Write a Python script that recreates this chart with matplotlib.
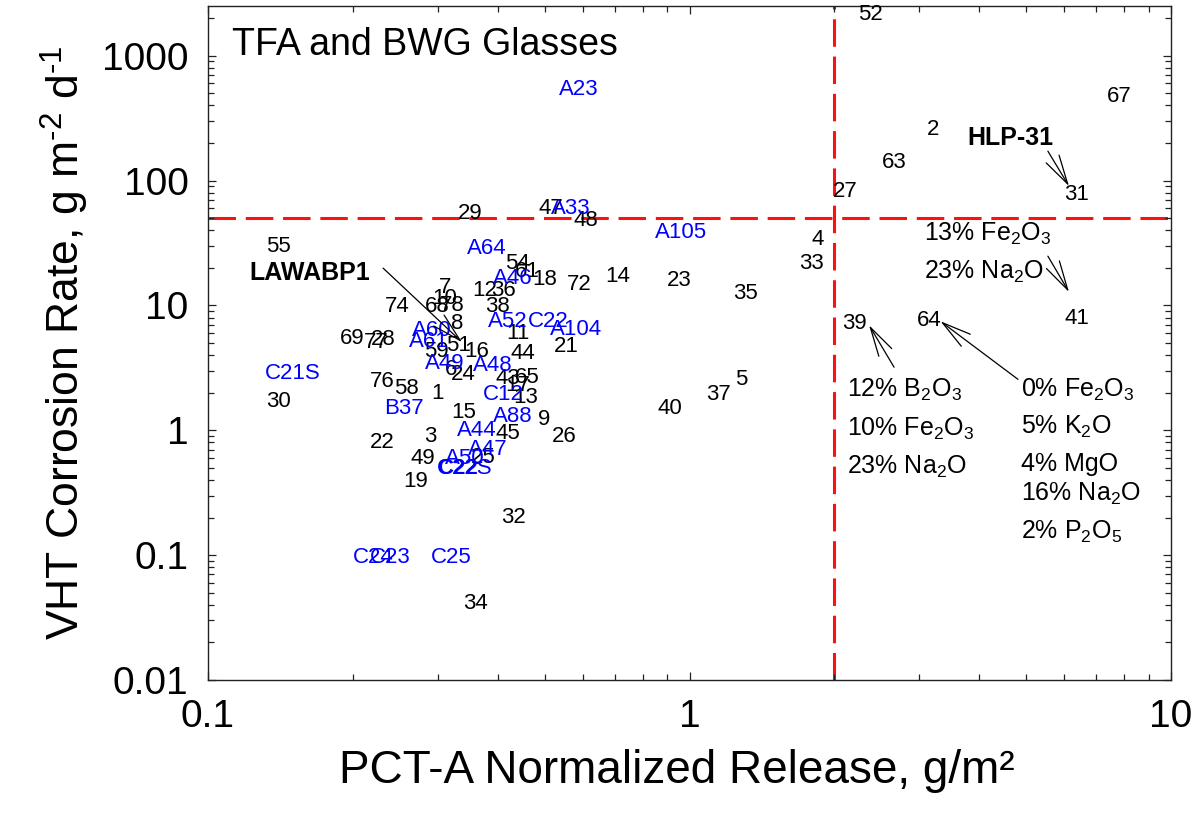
import matplotlib
matplotlib.use("Agg")
import matplotlib.pyplot as plt
from matplotlib import font_manager
from matplotlib.ticker import FixedLocator, FixedFormatter, NullFormatter, LogLocator

plt.rcParams['font.family'] = ['Liberation Sans', 'DejaVu Sans']
plt.rcParams['mathtext.fontset'] = 'custom'
plt.rcParams['mathtext.rm'] = 'Liberation Sans'
plt.rcParams['mathtext.it'] = 'Liberation Sans:italic'
plt.rcParams['mathtext.bf'] = 'Liberation Sans:bold'

# ---------------- data ----------------
black_labels = ["52", "67", "2", "63", "27", "31", "29", "47", "48", "55", "4", "33",
                "54", "61", "18", "72", "14", "23", "35", "12", "36", "38", "74", "7",
                "10", "68", "78", "8", "69", "28", "77", "11", "21", "59", "51", "16",
                "44", "6", "24", "43", "65", "76", "58", "30", "1", "17", "13", "15",
                "9", "40", "37", "5", "22", "3", "45", "26", "49", "25", "19", "32",
                "34", "39", "64", "41"]
black_x = [2.38, 7.8, 3.2, 2.66, 2.11, 6.38, 0.35, 0.516, 0.61, 0.14, 1.85, 1.79,
           0.44, 0.46, 0.50, 0.59, 0.71, 0.95, 1.31, 0.375, 0.41, 0.40, 0.247, 0.311,
           0.31, 0.30, 0.322, 0.33, 0.199, 0.231, 0.224, 0.44, 0.555, 0.298, 0.331, 0.362,
           0.45, 0.319, 0.339, 0.42, 0.46, 0.23, 0.258, 0.14, 0.30, 0.44, 0.456, 0.339,
           0.50, 0.91, 1.15, 1.28, 0.23, 0.29, 0.42, 0.55, 0.28, 0.373, 0.27, 0.43,
           0.36, 2.2, 3.14, 6.38]
black_y = [2230, 490, 268, 146, 85, 81, 57, 62, 50, 31, 35, 22.6,
           22.6, 19.5, 16.8, 15.3, 17.8, 16.5, 13.0, 13.7, 13.7, 10.2, 10.2, 14.5,
           11.9, 10.2, 10.4, 7.5, 5.67, 5.56, 5.26, 6.2, 4.9, 4.46, 4.98, 4.46,
           4.3, 3.2, 2.92, 2.71, 2.76, 2.56, 2.25, 1.77, 2.05, 2.38, 1.91, 1.45,
           1.27, 1.56, 2.02, 2.66, 0.83, 0.93, 0.98, 0.93, 0.62, 0.63, 0.41, 0.21,
           0.043, 7.5, 8.0, 8.2]

blue_labels = ["A23", "A33", "A105", "A64", "A46", "A52", "C22", "A104", "A60", "A61",
               "C21S", "A49", "A48", "C12", "B37", "A88", "A44", "A47", "A50", "C22S",
               "C24", "C23", "C25"]
blue_x = [0.59, 0.568, 0.96, 0.38, 0.43, 0.42, 0.51, 0.58, 0.292, 0.287,
          0.15, 0.31, 0.39, 0.41, 0.255, 0.43, 0.362, 0.382, 0.342, 0.342,
          0.22, 0.239, 0.32]
blue_y = [560, 62, 40, 30, 17.1, 7.75, 7.75, 6.7, 6.57, 5.36,
          2.97, 3.57, 3.44, 2.02, 1.56, 1.34, 1.04, 0.73, 0.62, 0.515,
          0.10, 0.10, 0.10]

blue_bold_labels = ["C22"]
blue_bold_x = [0.33]
blue_bold_y = [0.515]

bold_labels = ["HLP-31", "LAWABP1"]
bold_x = [4.65, 0.163]
bold_y = [231, 19.1]

# arrows: (tail, tip)
arrow_tail_x = [0.231, 5.55, 5.55, 2.66, 4.81]
arrow_tail_y = [19.9, 172, 24.8, 3.20, 2.56]
arrow_tip_x = [0.337, 6.14, 6.14, 2.36, 3.32]
arrow_tip_y = [5.07, 90.2, 12.8, 6.94, 7.47]

# composition notes (left x, baseline y)
note_texts = [r"13% Fe$_2$O$_3$", r"23% Na$_2$O",
              r"12% B$_2$O$_3$", r"10% Fe$_2$O$_3$", r"23% Na$_2$O",
              r"0% Fe$_2$O$_3$", r"5% K$_2$O", r"4% MgO", r"16% Na$_2$O", r"2% P$_2$O$_5$"]
note_x = [3.07, 3.07, 2.12, 2.12, 2.12, 4.88, 4.88, 4.88, 4.88, 4.88]
note_y = [32.7, 16.2, 1.84, 0.895, 0.452, 1.84, 0.929, 0.469, 0.270, 0.134]

x_limit_pct = 2.0
y_limit_vht = 50.0

xticks = [0.1, 1, 10]
xtick_labels = ["0.1", "1", "10"]
yticks = [0.01, 0.1, 1, 10, 100, 1000]
ytick_labels = ["0.01", "0.1", "1", "10", "100", "1000"]

# ---------------- figure ----------------
fig = plt.figure(figsize=(12.02, 8.26), dpi=100)
ax = fig.add_axes([208 / 1202, (826 - 680) / 826, 963 / 1202, 674 / 826])
ax.set_xscale('log')
ax.set_yscale('log')
ax.set_xlim(0.1, 10)
ax.set_ylim(0.01, 2500)

ax.axhline(y_limit_vht, color='#ff1010', lw=2.2, dashes=(9, 3.2), zorder=1)
ax.axvline(x_limit_pct, color='#ff1010', lw=2.2, dashes=(9, 3.2), zorder=1)

lab_fs = 16
for t, x, y in zip(black_labels, black_x, black_y):
    ax.text(x, y, t, fontsize=lab_fs, color='black', ha='center', va='center_baseline', zorder=3)
for t, x, y in zip(blue_labels, blue_x, blue_y):
    ax.text(x, y, t, fontsize=lab_fs, color='#0000ff', ha='center', va='center_baseline', zorder=3)
for t, x, y in zip(blue_bold_labels, blue_bold_x, blue_bold_y):
    ax.text(x, y, t, fontsize=lab_fs, color='#0000ff', fontweight='bold', ha='center',
            va='center_baseline', zorder=3)
for t, x, y in zip(bold_labels, bold_x, bold_y):
    ax.text(x, y, t, fontsize=18, color='black', fontweight='bold', ha='center',
            va='center_baseline', zorder=3)

for tx, ty, hx, hy in zip(arrow_tail_x, arrow_tail_y, arrow_tip_x, arrow_tip_y):
    ax.annotate('', xy=(hx, hy), xytext=(tx, ty),
                arrowprops=dict(arrowstyle='->,head_length=1.05,head_width=0.27',
                                lw=0.9, color='black', shrinkA=0, shrinkB=0,
                                mutation_scale=20))

for t, x, y in zip(note_texts, note_x, note_y):
    ax.text(x, y, t, fontsize=18, color='black', ha='left', va='baseline', zorder=3)

ax.text(0.025, 0.942, "TFA and BWG Glasses", transform=ax.transAxes, fontsize=27,
        ha='left', va='center')

# ticks
ax.xaxis.set_major_locator(FixedLocator(xticks))
ax.xaxis.set_major_formatter(FixedFormatter(xtick_labels))
ax.yaxis.set_major_locator(FixedLocator(yticks))
ax.yaxis.set_major_formatter(FixedFormatter(ytick_labels))
ax.xaxis.set_minor_locator(LogLocator(base=10, subs=range(2, 10), numticks=20))
ax.yaxis.set_minor_locator(LogLocator(base=10, subs=range(2, 10), numticks=20))
ax.xaxis.set_minor_formatter(NullFormatter())
ax.yaxis.set_minor_formatter(NullFormatter())
ax.tick_params(which='both', direction='in', top=True, right=True, width=0.9, color='#222222')
ax.tick_params(which='major', length=6)
ax.tick_params(which='minor', length=4.5)
ax.tick_params(axis='x', which='major', labelsize=28, pad=14)
ax.tick_params(axis='y', which='major', labelsize=28, pad=14)
for s in ax.spines.values():
    s.set_linewidth(1.0)
    s.set_color('#222222')

ax.set_xlabel("PCT-A Normalized Release, g/m²", fontsize=33)
ax.xaxis.set_label_coords(0.487, -0.102)

names = {f.name for f in font_manager.fontManager.ttflist}
ylab = r"VHT Corrosion Rate, g m$^{\text{-}2}$ d$^{\text{-}1}$"
if 'Liberation Sans Narrow' in names:
    ax.set_ylabel(ylab, fontsize=39, family=['Liberation Sans Narrow', 'Liberation Sans'], labelpad=8)
else:
    ax.set_ylabel(ylab, fontsize=32, labelpad=8)

fig.savefig("out.png", dpi=100)
